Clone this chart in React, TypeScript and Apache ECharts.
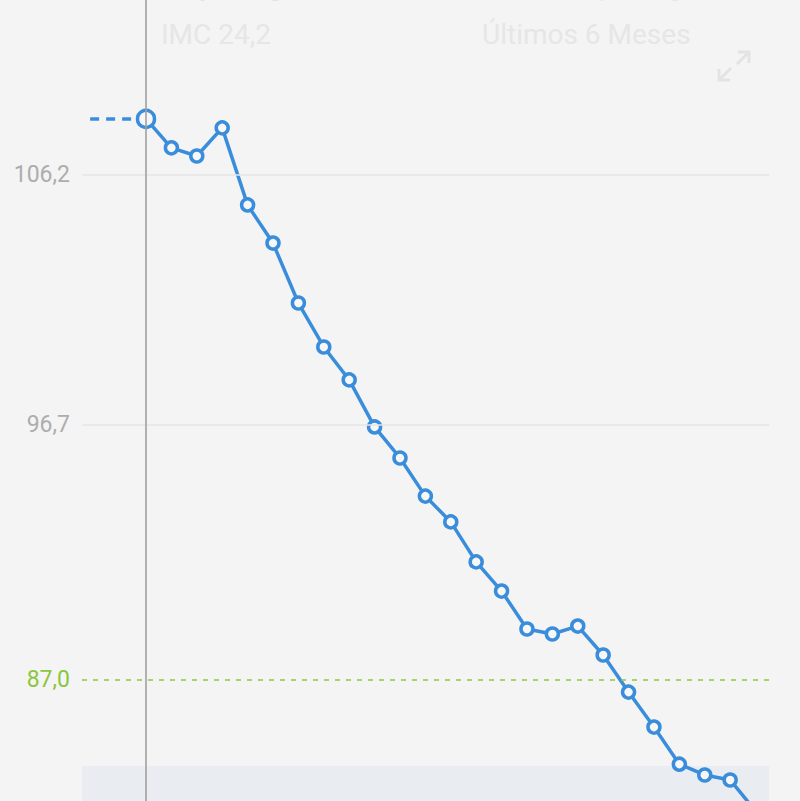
import React, { useEffect, useRef } from "react";
import * as echarts from "echarts";

// Weight readings (kg), one per step
const weights: number[] = [
  108.33, 107.23, 106.92, 107.99, 105.06, 103.61, 101.33, 99.66, 98.41, 96.62,
  95.44, 93.99, 93.01, 91.49, 90.38, 88.94, 88.75, 89.05, 87.95, 86.54,
  85.21, 83.8, 83.39, 83.2, 82.02,
];
// Y tick labels shown
const yTicks: number[] = [87.0, 96.7, 106.2];
const goalWeight = 87.0;
const gridValues: number[] = [106.2, 96.7];
// Dashed lead-in before first reading (x in step units)
const leadIn: number[] = [-2.2, 0];
const headerTexts: string[] = ["IMC 24,2", "Últimos 6 Meses"];

const BLUE = "#3a8ddb";
const GREEN = "#8cc63f";

export default function App() {
  const ref = useRef<HTMLDivElement>(null);
  useEffect(() => {
    if (!ref.current) return;
    const chart = echarts.init(ref.current, undefined, { renderer: "svg" });
    const fmt = (v: number) => v.toFixed(1).replace(".", ",");
    chart.setOption({
      animation: false,
      backgroundColor: "#f4f4f4",
      grid: { left: 82, right: 31, top: 0, bottom: 0 },
      xAxis: {
        type: "value",
        min: -2.52,
        max: 24.53,
        show: false,
      },
      yAxis: {
        type: "value",
        min: 82.4,
        max: 112.85,
        axisLine: { show: false },
        axisTick: { show: false },
        splitLine: { show: false },
        axisLabel: {
          customValues: yTicks,
          margin: 12,
          fontFamily: "Roboto",
          fontSize: 23,
          color: "#adadad",
          formatter: (v: number) =>
            Math.abs(v - goalWeight) < 1e-6 ? "{g|" + fmt(v) + "}" : fmt(v),
          rich: { g: { color: GREEN, fontFamily: "Roboto", fontSize: 23 } },
        },
      },
      graphic: [
        {
          type: "rect",
          z: 0,
          shape: { x: 82, y: 766, width: 687, height: 40 },
          style: { fill: "#e9ecf1" },
          silent: true,
        },
        {
          type: "text",
          x: 161,
          y: 20,
          style: { text: headerTexts[0], fill: "#e6e6e6", font: "28px Roboto" },
        },
        {
          type: "text",
          x: 482,
          y: 20,
          style: { text: headerTexts[1], fill: "#e6e6e6", font: "28px Roboto" },
        },
        {
          type: "text",
          x: 161,
          y: -1,
          style: { text: "Hoy", fill: "#d6e5f3", font: "30px Roboto", verticalAlign: "bottom" },
        },
        {
          type: "text",
          x: 252,
          y: -1,
          style: { text: "kg", fill: "#d6e5f3", font: "30px Roboto", verticalAlign: "bottom" },
        },
        {
          type: "text",
          x: 560,
          y: -1,
          style: { text: "Hoy", fill: "#e6ebd2", font: "30px Roboto", verticalAlign: "bottom" },
        },
        {
          type: "text",
          x: 652,
          y: -1,
          style: { text: "kg", fill: "#e6ebd2", font: "30px Roboto", verticalAlign: "bottom" },
        },
        {
          type: "polyline",
          shape: { points: [[738, 52], [749, 52], [749, 63]] },
          style: { stroke: "#e3e3e3", lineWidth: 3, fill: null },
        },
        {
          type: "line",
          shape: { x1: 749, y1: 52, x2: 737, y2: 64 },
          style: { stroke: "#e3e3e3", lineWidth: 3 },
        },
        {
          type: "polyline",
          shape: { points: [[719, 69], [719, 80], [730, 80]] },
          style: { stroke: "#e3e3e3", lineWidth: 3, fill: null },
        },
        {
          type: "line",
          shape: { x1: 719, y1: 80, x2: 731, y2: 68 },
          style: { stroke: "#e3e3e3", lineWidth: 3 },
        },
      ],
      series: [
        {
          type: "line",
          name: "lead",
          z: 1,
          silent: true,
          symbol: "none",
          data: leadIn.map((x) => [x, weights[0]]),
          lineStyle: { color: BLUE, width: 3.5, type: [9, 7] },
          markLine: {
            silent: true,
            symbol: "none",
            label: { show: false },
            data: [
              ...gridValues.map((v) => ({
                yAxis: v,
                lineStyle: { color: "#e6e6e6", width: 1.5, type: "solid" },
              })),
              {
                yAxis: goalWeight,
                lineStyle: { color: GREEN, width: 1.5, type: [5, 6] },
              },
              {
                xAxis: 0,
                lineStyle: { color: "#a0a0a0", width: 1.6, type: "solid" },
              },
            ],
          },
        },
        {
          type: "line",
          name: "peso",
          z: 3,
          clip: true,
          data: weights.map((w, i) => [i, w]),
          symbol: "circle",
          symbolSize: (_v: any, p: any) => (p.dataIndex === 0 ? 17 : 12),
          showAllSymbol: true,
          lineStyle: { color: BLUE, width: 3.5 },
          itemStyle: { color: "#f7f7f7", borderColor: BLUE, borderWidth: 3.5 },
        },
      ],
    });
    return () => chart.dispose();
  }, []);
  return (
    <div
      ref={ref}
      style={{ position: "fixed", left: 0, top: 0, width: 800, height: 801 }}
    />
  );
}
